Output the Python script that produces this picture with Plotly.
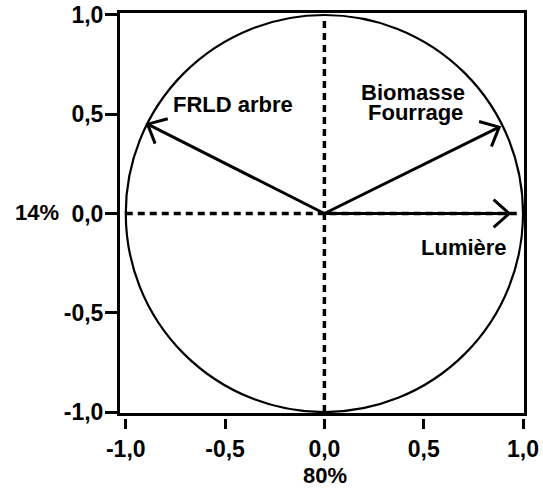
import numpy as np
import plotly.graph_objects as go

# ---- data ----
variables = ["FRLD arbre", "Biomasse Fourrage", "Lumière"]
load_x = [-0.89, 0.88, 0.93]
load_y = [0.45, 0.435, 0.0]
tick_vals = [-1.0, -0.5, 0.0, 0.5, 1.0]
tick_text = ["-1,0", "-0,5", "0,0", "0,5", "1,0"]
x_title = "80%"
y_title = "14%"

FONT = dict(family="Liberation Sans, Arial, sans-serif", size=22, color="black", weight="bold")
TICKFONT = dict(family="Liberation Sans, Arial, sans-serif", size=23, color="black", weight="bold")
W = 543
H = 490

fig = go.Figure()

# correlation circle
fig.add_shape(type="circle", xref="x", yref="y", x0=-1, y0=-1, x1=1, y1=1,
              line=dict(color="black", width=2.2), layer="above")
# dashed axes through origin
fig.add_shape(type="line", xref="x", yref="y", x0=0, y0=-1, x1=0, y1=1,
              line=dict(color="black", width=3.5, dash="7px,5px"), layer="above")
fig.add_shape(type="line", xref="x", yref="y", x0=-1, y0=0, x1=0.97, y1=0,
              line=dict(color="black", width=3.5, dash="7px,5px"), layer="above")

# arrows
L = 0.105
th = np.deg2rad(42)
for vx, vy in zip(load_x, load_y):
    fig.add_trace(go.Scatter(x=[0, vx], y=[0, vy], mode="lines",
                             line=dict(color="black", width=3), hoverinfo="skip",
                             showlegend=False))
    n = np.hypot(vx, vy)
    dx, dy = -vx / n, -vy / n
    a1 = (vx + L * (dx * np.cos(th) - dy * np.sin(th)), vy + L * (dx * np.sin(th) + dy * np.cos(th)))
    a2 = (vx + L * (dx * np.cos(-th) - dy * np.sin(-th)), vy + L * (dx * np.sin(-th) + dy * np.cos(-th)))
    fig.add_trace(go.Scatter(x=[a1[0], vx, a2[0]], y=[a1[1], vy, a2[1]], mode="lines",
                             line=dict(color="black", width=3), hoverinfo="skip",
                             showlegend=False))

# dummy trace to carry the offset x axis
fig.add_trace(go.Scatter(x=[None], y=[None], xaxis="x2", yaxis="y", mode="lines",
                         showlegend=False, hoverinfo="skip"))

# variable labels
fig.add_annotation(x=-0.46, y=0.55, xref="x", yref="y", text="FRLD arbre",
                   showarrow=False, font=FONT, xanchor="center", yanchor="middle")
fig.add_annotation(x=0.446, y=0.61, xref="x", yref="y", text="Biomasse",
                   showarrow=False, font=FONT, xanchor="center", yanchor="middle")
fig.add_annotation(x=0.459, y=0.509, xref="x", yref="y", text="Fourrage",
                   showarrow=False, font=FONT, xanchor="center", yanchor="middle")
fig.add_annotation(x=0.705, y=-0.171, xref="x", yref="y", text="Lumière",
                   showarrow=False, font=FONT, xanchor="center", yanchor="middle")

ml, mr, mt, mb = 120, 19, 13, 62
pw = W - ml - mr
ph = H - mt - mb
ydom0 = 15 / ph
xpos = 10 / ph

# axis titles (paper coordinates)
fig.add_annotation(x=(37 - ml) / pw, y=(H - mb - 212) / ph, xref="paper", yref="paper",
                   text=y_title, showarrow=False, font=FONT, xanchor="center", yanchor="middle")
fig.add_annotation(x=(325 - ml) / pw, y=(H - mb - 475) / ph, xref="paper", yref="paper",
                   text=x_title, showarrow=False, font=FONT, xanchor="center", yanchor="middle")

fig.update_layout(
    width=W, height=H,
    margin=dict(l=ml, r=mr, t=mt, b=mb, autoexpand=False),
    paper_bgcolor="white", plot_bgcolor="white",
    font=FONT,
    xaxis=dict(range=[-1.029, 1.005], showline=True, mirror=True, linecolor="black",
               linewidth=3, showticklabels=False, ticks="", showgrid=False,
               zeroline=False, anchor="y", automargin=False),
    xaxis2=dict(range=[-1.029, 1.005], overlaying="x", anchor="free", position=xpos,
                side="bottom", showline=False, showgrid=False, zeroline=False,
                ticks="outside", ticklen=10, tickwidth=3, tickcolor="black",
                tickvals=tick_vals, ticktext=tick_text, tickfont=TICKFONT,
                automargin=False),
    yaxis=dict(range=[-1.005, 1.010], domain=[ydom0, 1], showline=True, mirror=True,
               linecolor="black", linewidth=3, showgrid=False, zeroline=False,
               ticks="outside", ticklen=12, tickwidth=3, tickcolor="black",
               tickvals=tick_vals, ticktext=tick_text, tickfont=TICKFONT,
               ticklabelstandoff=-3, automargin=False),
)

fig.write_html("out.html")
